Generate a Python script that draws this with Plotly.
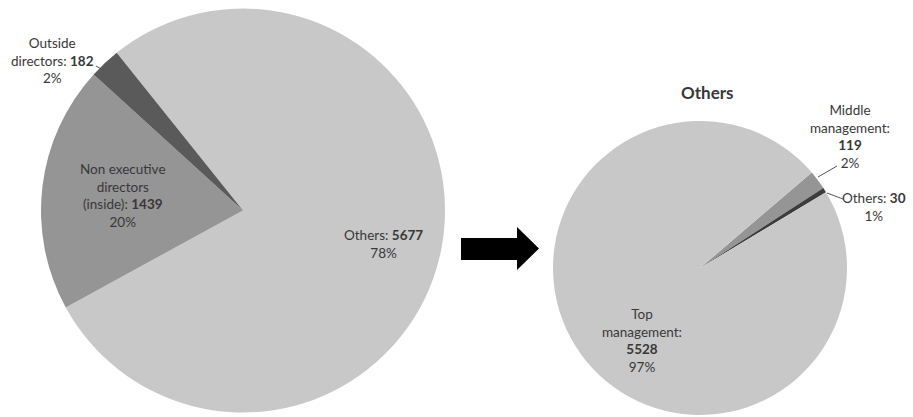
import plotly.graph_objects as go

W, H = 913, 417

# Board composition
board_labels = ["Others", "Non executive directors (inside)", "Outside directors"]
board_values = [5677, 1439, 182]
board_colors = ["#c8c8c8", "#959595", "#5a5a5a"]

# Breakdown of the "Others" group
others_labels = ["Middle management", "Others", "Top management"]
others_values = [119, 30, 5528]
others_colors = ["#959595", "#3c3c3c", "#c8c8c8"]

FONT = "Lato, 'Open Sans', sans-serif"
TXT = "#383838"


def px(x):
    return x / W


def py(y):
    return 1 - y / H


def pct(v, vals):
    return f"{round(100 * v / sum(vals))}%"


fig = go.Figure()

# Left pie: centre (243, 210.5), radius 202 px
fig.add_trace(go.Pie(
    labels=board_labels, values=board_values, sort=False, direction="clockwise",
    rotation=-38.7, marker=dict(colors=board_colors, line=dict(width=0)),
    textinfo="none", hoverinfo="label+value+percent", showlegend=False,
    domain=dict(x=[px(41), px(445)], y=[py(412.5), py(8.5)]),
))

# Right pie: centre (700, 268), radius 147 px
fig.add_trace(go.Pie(
    labels=others_labels, values=others_values, sort=False, direction="clockwise",
    rotation=49.5, marker=dict(colors=others_colors, line=dict(width=0)),
    textinfo="none", hoverinfo="label+value+percent", showlegend=False,
    domain=dict(x=[px(553), px(847)], y=[py(415), py(121)]),
))

annotations = []


def label(x, y, text, size=13.5):
    annotations.append(dict(
        x=px(x), y=py(y), xref="paper", yref="paper", text=text, showarrow=False,
        font=dict(family=FONT, size=size, color=TXT),
        align="center", xanchor="center", yanchor="middle",
    ))


# Left pie labels
label(52, 61, f"Outside<br>directors: <b>{board_values[2]}</b><br>{pct(board_values[2], board_values)}")
label(123, 196, f"Non executive<br>directors<br>(inside): <b>{board_values[1]}</b><br>{pct(board_values[1], board_values)}")
label(383, 244, f"Others: <b>{board_values[0]}</b><br>{pct(board_values[0], board_values)}")

# Right pie title and labels
label(707, 93, "<b>Others</b>", size=17)
label(850, 136, f"Middle<br>management:<br><b>{others_values[0]}</b><br>{pct(others_values[0], others_values)}")
label(874, 207, f"Others: <b>{others_values[1]}</b><br>{pct(others_values[1], others_values)}")
label(642, 340, f"Top<br>management:<br><b>{others_values[2]}</b><br>{pct(others_values[2], others_values)}")

shapes = []


def leader(x0, y0, x1, y1):
    shapes.append(dict(type="line", xref="paper", yref="paper",
                       x0=px(x0), y0=py(y0), x1=px(x1), y1=py(y1),
                       line=dict(color="#555555", width=1)))


leader(96, 66, 103, 70)
leader(818, 177, 837, 166)
leader(827, 193, 843, 199)

# Block arrow between the two pies
arrow_pts = [(461, 238), (517, 238), (517, 227), (539, 248.5),
             (517, 270), (517, 260), (461, 260)]
path = "M " + " L ".join(f"{px(x):.5f},{py(y):.5f}" for x, y in arrow_pts) + " Z"
shapes.append(dict(type="path", xref="paper", yref="paper", path=path,
                   fillcolor="black", line=dict(color="black", width=0)))

fig.update_layout(
    width=W, height=H, margin=dict(l=0, r=0, t=0, b=0),
    paper_bgcolor="white", plot_bgcolor="white",
    annotations=annotations, shapes=shapes,
)

fig.write_html("out.html")
